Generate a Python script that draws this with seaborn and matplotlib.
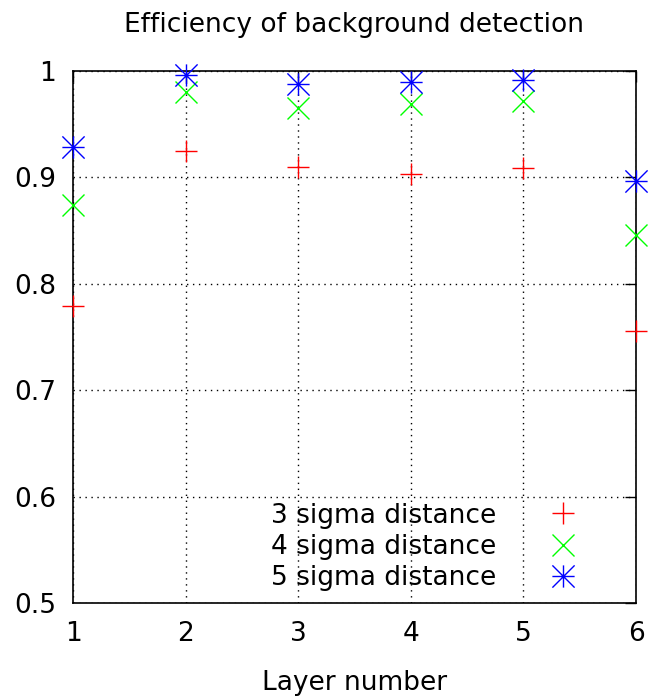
import matplotlib
matplotlib.use("Agg")
import matplotlib.pyplot as plt
import seaborn as sns
import pandas as pd
import numpy as np
from matplotlib.path import Path

layers = [1, 2, 3, 4, 5, 6]
sigma3 = [0.779, 0.925, 0.910, 0.9035, 0.909, 0.7555]
sigma4 = [0.874, 0.980, 0.9656, 0.9693, 0.972, 0.8455]
sigma5 = [0.9285, 0.996, 0.988, 0.990, 0.992, 0.8965]
series_names = ["3 sigma distance", "4 sigma distance", "5 sigma distance"]

df = pd.DataFrame({
    "layer": layers * 3,
    "eff": sigma3 + sigma4 + sigma5,
    "series": [series_names[0]] * 6 + [series_names[1]] * 6 + [series_names[2]] * 6,
})

sns.set_style("white")
plt.rcParams["font.family"] = ["DejaVu Sans"]
plt.rcParams["text.color"] = "black"
plt.rcParams["axes.labelcolor"] = "black"
FS = 19

# gnuplot-like asterisk: + combined with x
ast = Path(
    [(-1, 0), (1, 0), (0, -1), (0, 1), (-1, -1), (1, 1), (-1, 1), (1, -1)],
    [Path.MOVETO, Path.LINETO, Path.MOVETO, Path.LINETO,
     Path.MOVETO, Path.LINETO, Path.MOVETO, Path.LINETO],
)
markers = {series_names[0]: "+", series_names[1]: "x", series_names[2]: ast}
palette = {series_names[0]: "#ff0000", series_names[1]: "#00ff00", series_names[2]: "#0000ff"}
sizes = {series_names[0]: 16, series_names[1]: 16, series_names[2]: 16}

fig = plt.figure(figsize=(6.52, 6.99), dpi=100)
ax = fig.add_axes([73 / 652, 1 - 603 / 699, (636 - 73) / 652, (603 - 71) / 699])

for name in series_names:
    sub = df[df["series"] == name]
    sns.lineplot(data=sub, x="layer", y="eff", ax=ax, color=palette[name],
                 marker=markers[name], markersize=sizes[name], markeredgewidth=1.0,
                 markeredgecolor=palette[name], markerfacecolor=palette[name],
                 linestyle="none", label=name, clip_on=False, zorder=5)

ax.set_xlim(1, 6)
ax.set_ylim(0.5, 1.0)
ax.set_xticks(layers)
ax.set_xticklabels([str(v) for v in layers])
yt = [0.5, 0.6, 0.7, 0.8, 0.9, 1.0]
ax.set_yticks(yt)
ax.set_yticklabels(["0.5", "0.6", "0.7", "0.8", "0.9", "1"])
ax.grid(True, linestyle=(0, (1, 3.3)), color="black", linewidth=1.0)
ax.tick_params(direction="in", length=8, width=1, top=True, right=True,
               labelsize=FS, colors="black")
ax.tick_params(axis="x", pad=13)
ax.tick_params(axis="y", pad=12)
for s in ax.spines.values():
    s.set_visible(True)
    s.set_color("black")
    s.set_linewidth(1.2)

ax.set_xlabel("Layer number", fontsize=FS, labelpad=16.5)
ax.set_ylabel("")
ax.set_title("Efficiency of background detection", fontsize=FS, pad=28)

leg = ax.legend(loc="lower right", markerfirst=False, frameon=False, fontsize=FS,
                bbox_to_anchor=(0.919, 0.0), handletextpad=1.9, labelspacing=0.2,
                handlelength=1.2, borderaxespad=0.05)
for t in leg.get_texts():
    t.set_color("black")

fig.savefig("out.png", dpi=100)
